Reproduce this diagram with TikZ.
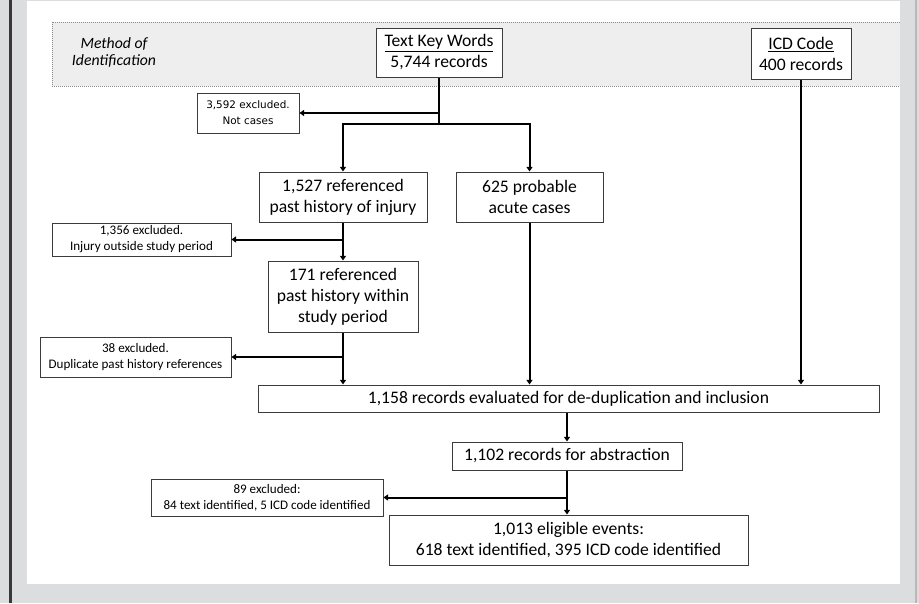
\documentclass[tikz,border=0pt]{standalone}
\usepackage{fontspec}
\setmainfont{Carlito}
\newfontfamily\vfont{DejaVu Sans}
\usetikzlibrary{arrows.meta}
\definecolor{bgc}{HTML}{DCDDDF}
\definecolor{bandc}{HTML}{EEEEEE}
\definecolor{bordc}{HTML}{3C3C3C}
\tikzset{
  mbox/.style={draw=bordc, line width=0.75pt, fill=white, align=center, inner sep=0pt,
    font=\fontsize{13.2pt}{15.75pt}\selectfont},
  sbox/.style={draw=bordc, line width=0.6pt, fill=white, align=center, inner sep=0pt,
    font=\fontsize{9.8pt}{12pt}\selectfont},
  ln/.style={line width=1.5pt, black},
  arr/.style={ln, -{Triangle[width=4.5pt,length=3.5pt]}},
}
\begin{document}
\begin{tikzpicture}[x=0.75pt,y=-0.75pt]
\useasboundingbox (0,0) rectangle (919,603);
% background frame
\fill[bgc] (0,0) rectangle (919,603);
\fill[black!78] (9,0) rectangle (12,603);
\fill[black!28] (915,0) rectangle (917,603);
\fill[white] (27,1) rectangle (900,584);
% identification band
\fill[bandc] (52,22) rectangle (900,86);
\draw[black!45, densely dotted, line width=0.5pt] (900,22) -- (52,22) -- (52,86) -- (900,86);
\node[align=center, font=\fontsize{11.8pt}{12.9pt}\selectfont\itshape] (method) at (114,52.5) {Method of\\Identification};
% top boxes
\node[mbox, minimum width=126*0.75pt, minimum height=49*0.75pt] (tkw) at (439,52.5) {\underline{Text Key Words}\\5,744 records};
\node[mbox, minimum width=100*0.75pt, minimum height=51*0.75pt] (icd) at (801,53.5) {\underline{ICD Code}\\400 records};
% exclusion boxes
\node[sbox, minimum width=102*0.75pt, minimum height=40*0.75pt, font=\vfont\fontsize{7.8pt}{12pt}\selectfont] (ex1) at (248,113) {3,592 excluded.\\Not cases};
\node[sbox, minimum width=179*0.75pt, minimum height=33*0.75pt] (ex2) at (141.5,239.5) {1,356 excluded.\\Injury outside study period};
\node[sbox, minimum width=191*0.75pt, minimum height=40*0.75pt] (ex3) at (135.5,357) {38 excluded.\\Duplicate past history references};
\node[sbox, minimum width=232*0.75pt, minimum height=37*0.75pt] (ex4) at (267,497.5) {89 excluded:\\84 text identified, 5 ICD code identified};
% main boxes
\node[mbox, minimum width=168*0.75pt, minimum height=50*0.75pt] (p1527) at (343,197) {1,527 referenced\\past history of injury};
\node[mbox, minimum width=147*0.75pt, minimum height=50*0.75pt] (p625) at (529.5,197) {625 probable\\acute cases};
\node[mbox, minimum width=150*0.75pt, minimum height=71*0.75pt] (p171) at (343,296.5) {171 referenced\\past history within\\study period};
\node[mbox, minimum width=621*0.75pt, minimum height=27*0.75pt] (dedup) at (568.5,398.5) {1,158 records evaluated for de-duplication and inclusion};
\node[mbox, minimum width=230*0.75pt, minimum height=28*0.75pt] (abst) at (567,456) {1,102 records for abstraction};
\node[mbox, minimum width=359*0.75pt, minimum height=50*0.75pt] (elig) at (568.5,540) {1,013 eligible events:\\618 text identified, 395 ICD code identified};
% connectors
\coordinate (split) at (439,124);
\draw[ln] (tkw.south) -- (split);
\draw[arr] (split) -| (p1527.north);
\draw[arr] (split) -| (p625.north);
\draw[arr] (tkw.south |- ex1.east) -- (ex1.east);
\draw[arr] (p1527.south) -- (p171.north);
\draw[arr] (p1527.south |- ex2.east) -- (ex2.east);
\draw[arr] (p171.south) -- (p171.south |- dedup.north);
\draw[arr] (p171.south |- ex3.east) -- (ex3.east);
\draw[arr] (p625.south) -- (p625.south |- dedup.north);
\draw[arr] (icd.south) -- (icd.south |- dedup.north);
\draw[arr] (dedup.south -| abst.north) -- (abst.north);
\draw[arr] (abst.south) -- (abst.south |- elig.north);
\draw[arr] (abst.south |- ex4.east) -- (ex4.east);
\end{tikzpicture}
\end{document}
